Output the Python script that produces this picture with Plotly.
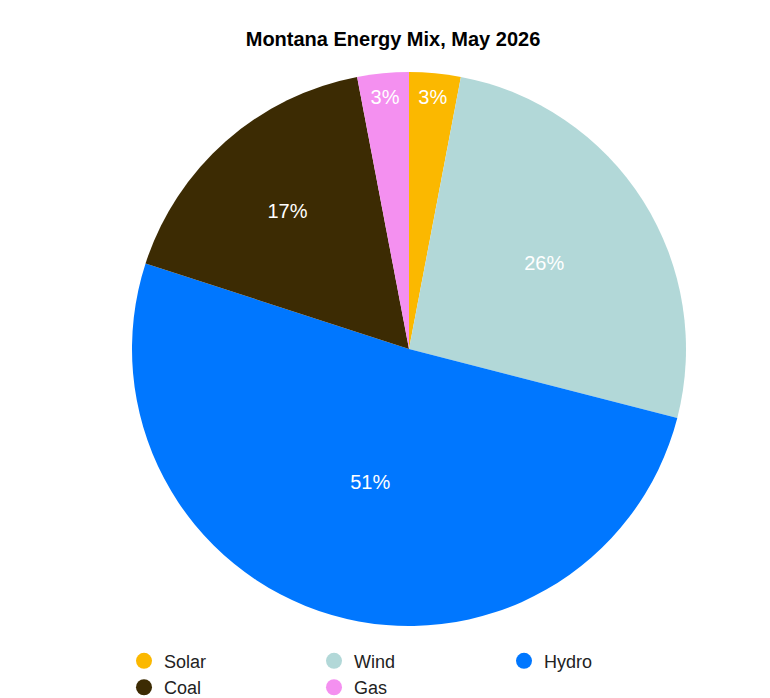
import plotly.graph_objects as go

labels = ["Solar", "Wind", "Hydro", "Coal", "Gas"]
values = [3, 26, 51, 17, 3]
colors = ["#FBB800", "#B2D8D8", "#0077FF", "#3C2B03", "#F490F0"]

fig = go.Figure()
fig.add_trace(go.Pie(labels=labels, values=values, sort=False, direction="clockwise",
                     rotation=0, marker=dict(colors=colors, line=dict(width=0)),
                     texttemplate="%{percent:.0%}", textposition="inside",
                     insidetextfont=dict(color="white", size=20, family="Liberation Sans"),
                     showlegend=False, hoverinfo="label+percent"))
for l, c in zip(labels, colors):
    fig.add_trace(go.Scatter(x=[None], y=[None], mode="markers", name=l,
                             marker=dict(symbol="circle", size=18, color=c)))
fig.update_layout(
    width=770, height=698,
    title=dict(text="<b>Montana Energy Mix, May 2026</b>", x=0.5, xanchor="center", y=0.965,
               font=dict(family="Liberation Sans", size=20, color="black")),
    margin=dict(t=64, b=74, l=32, r=0),
    paper_bgcolor="white", plot_bgcolor="white",
    xaxis=dict(visible=False), yaxis=dict(visible=False),
    legend=dict(orientation="h", x=0.5, xanchor="center", y=-0.03, yanchor="top",
                entrywidth=145, font=dict(family="Liberation Sans", size=18, color="#222")),
)
fig.write_html("out.html")
